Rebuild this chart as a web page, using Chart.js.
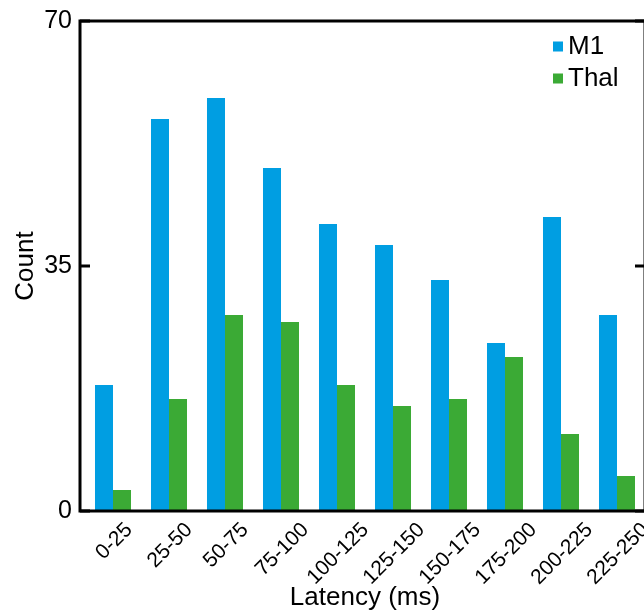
<!DOCTYPE html>
<html>
<head>
<meta charset="utf-8">
<script src="https://cdn.jsdelivr.net/npm/chart.js@4/dist/chart.umd.min.js"></script>
<style>
  html, body { margin: 0; padding: 0; background: #fff; overflow: hidden; width: 644px; height: 613px; }
  canvas { display: block; }
</style>
</head>
<body>
<canvas id="chart" width="652" height="613"></canvas>
<script>
// Latency histogram: spike counts per 25 ms bin
const latencyBins = ['0-25', '25-50', '50-75', '75-100', '100-125', '125-150', '150-175', '175-200', '200-225', '225-250'];
const m1Counts   = [18, 56, 59, 49, 41, 38, 33, 24, 42, 28];
const thalCounts = [3, 16, 28, 27, 18, 15, 16, 22, 11, 5];
const yTicks = [0, 35, 70];
const seriesNames = ['M1', 'Thal'];
const seriesColors = ['#009EE2', '#3BAA35'];

const FONT = '"Liberation Sans", Arial, Helvetica, sans-serif';

// Box frame with inward tick marks on both vertical sides
const framePlugin = {
  id: 'frame',
  afterDatasetsDraw(chart) {
    const { ctx, chartArea: { left, right, top, bottom }, scales: { y } } = chart;
    const axisX = left - 5;
    ctx.save();
    ctx.strokeStyle = '#000';
    ctx.lineWidth = 3;
    ctx.lineJoin = 'miter';
    ctx.beginPath();
    ctx.moveTo(axisX, top);
    ctx.lineTo(right, top);
    ctx.lineTo(right, bottom);
    ctx.lineTo(axisX, bottom);
    ctx.closePath();
    ctx.stroke();
    ctx.beginPath();
    yTicks.forEach(v => {
      const py = y.getPixelForValue(v);
      ctx.moveTo(axisX, py); ctx.lineTo(axisX + 10, py);
      ctx.moveTo(right, py); ctx.lineTo(right - 10, py);
    });
    ctx.stroke();
    ctx.restore();
  }
};

// Category labels rotated 45°, their bounding box centred under each group
const binLabelPlugin = {
  id: 'binLabels',
  afterDraw(chart) {
    const { ctx, chartArea: { bottom }, scales: { x } } = chart;
    const size = 21;
    const capH = 0.716 * size;
    ctx.save();
    ctx.font = size + 'px ' + FONT;
    ctx.fillStyle = '#000';
    ctx.textAlign = 'center';
    ctx.textBaseline = 'alphabetic';
    latencyBins.forEach((lab, i) => {
      const px = x.getPixelForTick(i);
      const w = ctx.measureText(lab).width;
      const half = (w + capH) * Math.SQRT1_2 / 2;
      ctx.save();
      ctx.translate(px, bottom + 9 + half);
      ctx.rotate(-Math.PI / 4);
      ctx.fillText(lab, 0, capH / 2);
      ctx.restore();
    });
    ctx.restore();
  }
};

// Legend inside the plot, top-right corner
const legendPlugin = {
  id: 'insideLegend',
  afterDraw(chart) {
    const { ctx, chartArea: { right, top } } = chart;
    ctx.save();
    ctx.font = '26px ' + FONT;
    ctx.textAlign = 'left';
    ctx.textBaseline = 'alphabetic';
    chart.data.datasets.forEach((ds, i) => {
      const rowTop = top + 20.5 + i * 32;
      ctx.fillStyle = ds.backgroundColor;
      ctx.fillRect(right - 92, rowTop, 10, 10);
      ctx.fillStyle = '#000';
      ctx.fillText(ds.label, right - 77, rowTop + 12);
    });
    ctx.restore();
  }
};

new Chart(document.getElementById('chart'), {
  type: 'bar',
  data: {
    labels: latencyBins,
    datasets: [
      { label: seriesNames[0], data: m1Counts, backgroundColor: seriesColors[0] },
      { label: seriesNames[1], data: thalCounts, backgroundColor: seriesColors[1] }
    ]
  },
  options: {
    responsive: false,
    animation: false,
    devicePixelRatio: 1,
    layout: { padding: { top: 21, right: 7, left: 0, bottom: 0 } },
    datasets: {
      bar: { categoryPercentage: 0.643, barPercentage: 1.0, borderWidth: 0 }
    },
    plugins: {
      legend: { display: false },
      tooltip: { enabled: false }
    },
    scales: {
      x: {
        offset: true,
        grid: { display: false, drawTicks: false },
        border: { display: false },
        ticks: { display: false },
        title: {
          display: true,
          text: 'Latency (ms)',
          color: '#000',
          font: { family: FONT, size: 26 },
          padding: { top: 0, bottom: 0 }
        },
        afterFit(scale) { scale.height = 102; }
      },
      y: {
        min: 0,
        max: 70,
        afterBuildTicks(scale) { scale.ticks = yTicks.map(v => ({ value: v })); },
        grid: { display: false, drawTicks: false },
        border: { display: false },
        ticks: {
          color: '#000',
          padding: 13,
          font: { family: FONT, size: 25, lineHeight: 0.4 }
        },
        title: {
          display: true,
          text: 'Count',
          color: '#000',
          font: { family: FONT, size: 26 },
          padding: { top: 10, bottom: 0 }
        },
        afterFit(scale) { scale.width = 85; }
      }
    }
  },
  plugins: [framePlugin, binLabelPlugin, legendPlugin]
});
</script>
</body>
</html>
